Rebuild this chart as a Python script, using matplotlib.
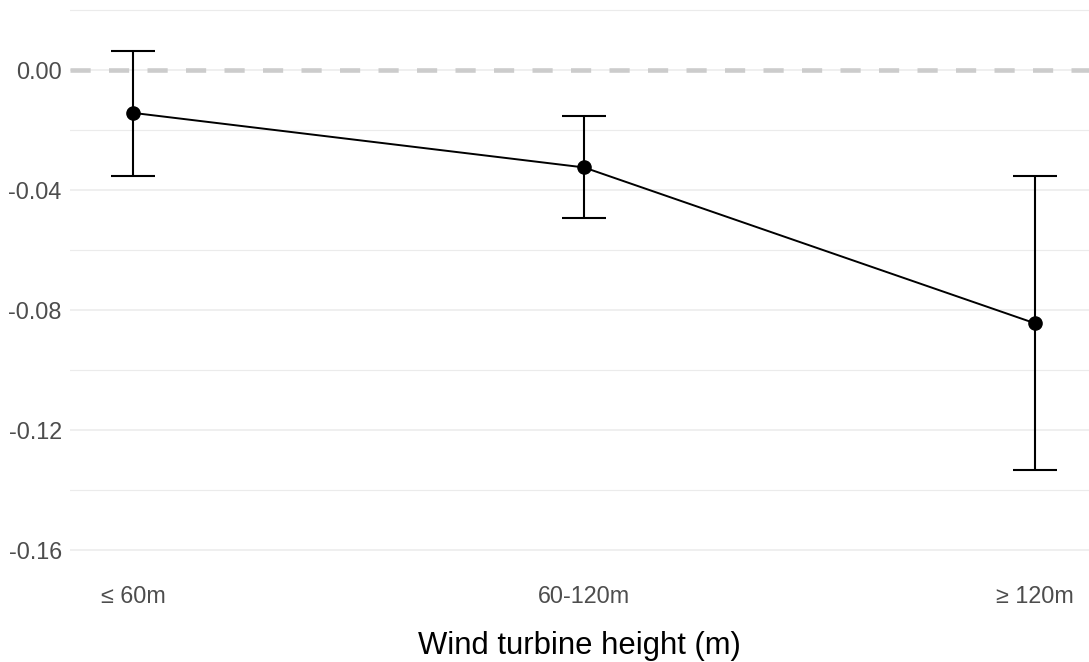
import matplotlib
matplotlib.use('agg')
import matplotlib.pyplot as plt
import numpy as np

plt.rcParams['font.family'] = ['Liberation Sans', 'DejaVu Sans']

# Effect estimates by turbine height class, with confidence bounds
heights = ['\u2264 60m', '60-120m', '\u2265 120m']
estimate = [-0.0143, -0.0325, -0.0845]
ci_low = [-0.0352, -0.0495, -0.1335]
ci_high = [0.0062, -0.0152, -0.0355]

W, H = 1089, 662
fig = plt.figure(figsize=(W / 100, H / 100), dpi=100)
# panel placed in pixel units
left, right, top, bottom = 70, 1089, 5, 575
ax = fig.add_axes([left / W, (H - bottom) / H, (right - left) / W, (bottom - top) / H])

x = np.arange(len(heights))
est = np.array(estimate)
lo = np.array(ci_low)
hi = np.array(ci_high)

ax.set_xlim(-0.14, 2.12)
ax.set_ylim(-0.1685, 0.0217)

major = [0.0, -0.04, -0.08, -0.12, -0.16]
minor = [0.02, -0.02, -0.06, -0.10, -0.14]
ax.set_yticks(major)
ax.set_yticks(minor, minor=True)
ax.set_yticklabels(['%.2f' % v for v in major])
ax.set_xticks(x)
ax.set_xticklabels(heights)

ax.grid(axis='y', which='major', color='#EBEBEB', lw=1.1, zorder=0)
ax.grid(axis='y', which='minor', color='#EBEBEB', lw=0.8, zorder=0)
ax.set_axisbelow(True)

ax.axhline(0, color='#CCCCCC', lw=3.3, dashes=(4.4, 4.0), zorder=1)

ax.errorbar(x, est, yerr=[est - lo, hi - est], fmt='none', ecolor='black',
            elinewidth=1.5, capsize=15.5, capthick=1.5, zorder=3)
ax.plot(x, est, color='black', lw=1.4, zorder=3)
ax.plot(x, est, 'o', color='black', ms=9.5, zorder=4)

for s in ax.spines.values():
    s.set_visible(False)
ax.tick_params(axis='both', which='both', length=0, labelsize=16.8, labelcolor='#4D4D4D')
ax.tick_params(axis='y', pad=6)
ax.tick_params(axis='x', pad=7)
ax.set_xlabel('Wind turbine height (m)', fontsize=22.3, color='black', labelpad=17)

fig.savefig('out.png', dpi=100)
